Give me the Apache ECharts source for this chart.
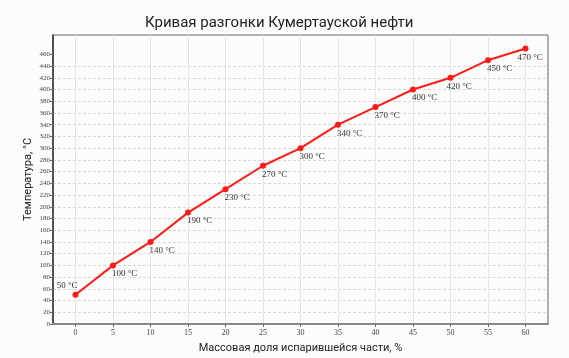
<!DOCTYPE html>
<html><head><meta charset="utf-8">
<script src="https://cdn.jsdelivr.net/npm/echarts@6/dist/echarts.min.js"></script>
<style>html,body{margin:0;padding:0;background:#fff;}#c{width:569px;height:358px;}</style>
</head><body><div id="c"></div>
<script>
const xValues = [0,5,10,15,20,25,30,35,40,45,50,55,60];
const temps = [50,100,140,190,230,270,300,340,370,400,420,450,470];
const xTicks = [0,5,10,15,20,25,30,35,40,45,50,55,60];
const yTicks = [0,20,40,60,80,100,120,140,160,180,200,220,240,260,280,300,320,340,360,380,400,420,440,460];
const serif = '"Liberation Serif", "DejaVu Serif", serif';
const sans = 'Roboto, "Noto Sans", sans-serif';
const chart = echarts.init(document.getElementById('c'));
const data = xValues.map((x,i)=>{
  const item = {value:[x,temps[i]]};
  if(i===0){ item.label = {position:'top',align:'right',distance:2,offset:[2,0]}; }
  else if(i===xValues.length-1){ item.label = {offset:[-8,1]}; }
  else if(i===10){ item.label = {offset:[-4,0]}; }
  return item;
});
const gridColors = yTicks.map(()=>'#d8d8d8').concat(['rgba(0,0,0,0)','rgba(0,0,0,0)']);
chart.setOption({
  backgroundColor:'#fcfcfa',
  animation:false,
  title:{text:'Кривая разгонки Кумертауской нефти',left:140,top:11,textStyle:{fontFamily:sans,fontSize:15,fontWeight:'normal',color:'#222'}},
  grid:{left:53,right:21,top:35,bottom:34,outerBoundsMode:'none',containLabel:false,show:true,borderColor:'#666',borderWidth:1,backgroundColor:'#fcfcfa'},
  xAxis:{type:'value',min:-3,max:63,
    name:'Массовая доля испарившейся части, %',nameLocation:'middle',nameGap:19,
    nameTextStyle:{fontFamily:sans,fontSize:11,color:'#222'},
    axisLine:{show:true,onZero:false,lineStyle:{color:'#888',width:2}},
    axisTick:{show:true,customValues:xTicks,length:3,lineStyle:{color:'#666'}},
    axisLabel:{customValues:xTicks,fontFamily:serif,fontSize:8,color:'#444',margin:5},
    splitLine:{show:true,lineStyle:{color:'#e4e4e4',width:1}}
  },
  yAxis:{type:'value',min:0,max:493,interval:20,
    name:'Температура, °C',nameLocation:'middle',nameGap:19,nameMoveOverlap:false,
    nameTextStyle:{fontFamily:sans,fontSize:11,color:'#222'},
    axisLine:{show:true,onZero:false,lineStyle:{color:'#333',width:1.5}},
    axisTick:{show:true,customValues:yTicks,length:3,lineStyle:{color:'#666'}},
    axisLabel:{customValues:yTicks,fontFamily:serif,fontSize:7,color:'#444',margin:3},
    splitLine:{show:true,showMaxLine:false,lineStyle:{color:gridColors,type:[3,2],width:1}}
  },
  series:[{type:'line',data:data,symbol:'circle',symbolSize:6,
    itemStyle:{color:'#ff1a1a'},lineStyle:{color:'#ff1a1a',width:2},
    label:{show:true,position:'bottom',align:'left',distance:1,offset:[-1,0],fontFamily:serif,fontSize:9,color:'#333',
      formatter:p=>p.value[1]+' °C'}
  }]
});
</script></body></html>
